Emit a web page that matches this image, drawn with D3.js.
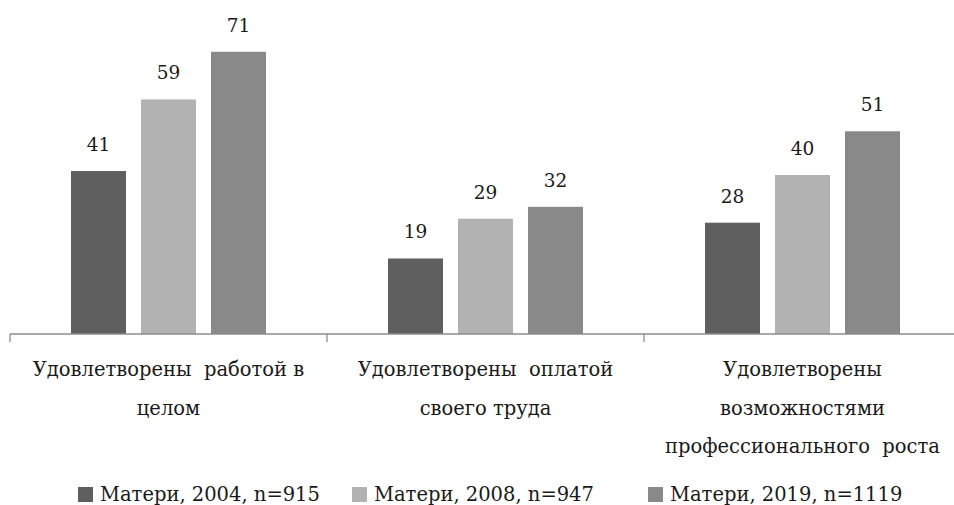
<!DOCTYPE html>
<html>
<head>
<meta charset="utf-8">
<script src="https://cdn.jsdelivr.net/npm/d3@7"></script>
<style>
  body { margin: 0; background: #fff; }
</style>
</head>
<body>
<script>
  // chart data
  var categories = ["work", "pay", "growth"];
  var categoryLines = [
    ["Удовлетворены  работой в", "целом"],
    ["Удовлетворены  оплатой", "своего труда"],
    ["Удовлетворены", "возможностями", "профессионального  роста"]
  ];
  var seriesNames = ["Матери, 2004, n=915", "Матери, 2008, n=947", "Матери, 2019, n=1119"];
  var values2004 = [41, 19, 28];
  var values2008 = [59, 29, 40];
  var values2019 = [71, 32, 51];
  var seriesColors = ["#5f5f5f", "#b2b2b2", "#898989"];

  var width = 954, height = 505;
  var baseY = 334;
  var fontName = "'DejaVu Serif', 'Liberation Serif', serif";

  var svg = d3.select("body").append("svg")
    .attr("width", width)
    .attr("height", height)
    .attr("font-family", fontName)
    .style("font-family", fontName);

  var x = d3.scaleBand().domain(categories).range([10, 961]);
  var inner = d3.scaleBand().domain(d3.range(3))
    .range([0, 210]).paddingInner(15 / 70).paddingOuter(15 / 140);
  var y = d3.scaleLinear().domain([0, 80]).range([baseY, 16]);

  var rows = [values2004, values2008, values2019];
  var bars = [];
  categories.forEach(function (c, ci) {
    rows.forEach(function (r, si) {
      bars.push({cat: c, s: si, v: r[ci]});
    });
  });

  function barX(d) {
    return x(d.cat) + x.bandwidth() / 2 - 105 + inner(d.s);
  }

  svg.selectAll("rect.bar")
    .data(bars)
    .enter().append("rect")
    .attr("class", "bar")
    .attr("x", barX)
    .attr("y", function (d) { return y(d.v); })
    .attr("width", inner.bandwidth())
    .attr("height", function (d) { return baseY - y(d.v); })
    .attr("fill", function (d) { return seriesColors[d.s]; });

  svg.selectAll("text.val")
    .data(bars)
    .enter().append("text")
    .attr("class", "val")
    .attr("x", function (d) { return barX(d) + inner.bandwidth() / 2; })
    .attr("y", function (d) { return y(d.v) - 20; })
    .attr("text-anchor", "middle")
    .attr("fill", "#1a1a1a")
    .style("font-size", "18.5px")
    .text(function (d) { return d.v; });

  // x axis line with ticks between groups
  var axis = svg.append("g");
  axis.append("line")
    .attr("x1", 10).attr("x2", width)
    .attr("y1", baseY).attr("y2", baseY)
    .attr("stroke", "#8c8c8c").attr("stroke-width", 1.3);
  axis.selectAll("line.tick")
    .data(categories.concat(["end"]))
    .enter().append("line")
    .attr("class", "tick")
    .attr("x1", function (d, i) { return 10 + i * x.step(); })
    .attr("x2", function (d, i) { return 10 + i * x.step(); })
    .attr("y1", baseY).attr("y2", baseY + 8)
    .attr("stroke", "#8c8c8c").attr("stroke-width", 1.3);

  // category labels
  categories.forEach(function (c, ci) {
    var t = svg.append("text")
      .attr("text-anchor", "middle")
      .attr("fill", "#1a1a1a")
      .style("font-size", "19.5px")
      .style("white-space", "pre");
    categoryLines[ci].forEach(function (line, li) {
      t.append("tspan")
        .attr("x", x(c) + x.bandwidth() / 2)
        .attr("y", 376 + li * 38.5)
        .text(line);
    });
  });

  // legend
  var legendX = [78, 352, 648];
  var legend = svg.selectAll("g.legend")
    .data(seriesNames)
    .enter().append("g")
    .attr("class", "legend")
    .attr("transform", function (d, i) { return "translate(" + legendX[i] + ",487)"; });
  legend.append("rect")
    .attr("width", 15).attr("height", 15)
    .attr("fill", function (d, i) { return seriesColors[i]; });
  legend.append("text")
    .attr("x", 22).attr("y", 14)
    .attr("fill", "#1a1a1a")
    .style("font-size", "19.5px")
    .text(function (d) { return d; });
</script>
</body>
</html>
